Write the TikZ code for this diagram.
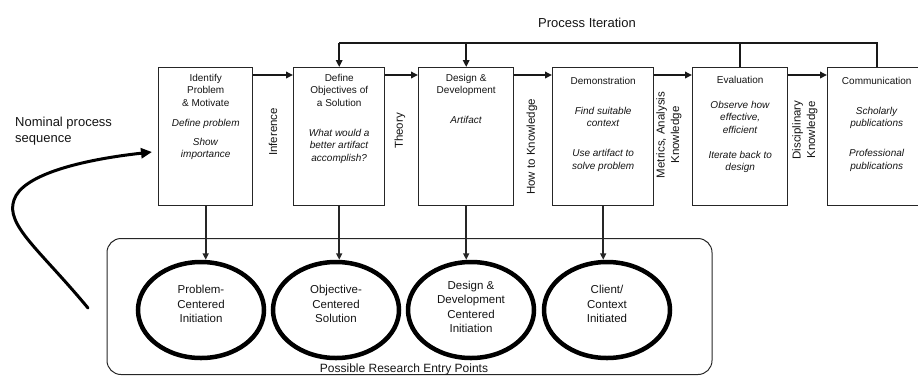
\documentclass[tikz,border=0pt]{standalone}
\usepackage{fontspec}
\setmainfont{Liberation Sans}
\usetikzlibrary{arrows.meta,shapes.geometric}
\begin{document}
\begin{tikzpicture}[x=1pt,y=-1pt,
  stagebox/.style={draw=black!85,line width=1.4pt,rectangle,minimum width=#1,minimum height=138,inner sep=0,anchor=north west},
  btext/.style={align=center,anchor=north,inner sep=0,font=\fontsize{10}{12.5}\selectfont,text=black!92},
  vlabel/.style={rotate=90,align=center,inner sep=0,font=\fontsize{11.5}{14.5}\selectfont,text=black!92},
  entry/.style={draw=black,line width=4.5pt,ellipse,minimum width=126,minimum height=96,inner sep=0},
  etext/.style={align=center,inner sep=0,font=\fontsize{11.5}{14.5}\selectfont,text=black!92},
  harr/.style={draw=black!90,line width=1.8pt,-{Triangle[length=7pt,width=6.5pt]}},
  varr/.style={draw=black!85,line width=1.6pt,-{Triangle[length=6.5pt,width=6pt]}},
  iter/.style={draw=black!90,line width=2pt},
  biglabel/.style={inner sep=0,font=\fontsize{13}{16}\selectfont,text=black!92}
]
\useasboundingbox (0,0) rectangle (918,376);

% stage boxes
\node[stagebox=94]  (b1) at (158,67) {};
\node[stagebox=91]  (b2) at (293,67) {};
\node[stagebox=95]  (b3) at (418,67) {};
\node[stagebox=101] (b4) at (552,67) {};
\node[stagebox=95]  (b5) at (692,67) {};
\node[stagebox=98]  (b6) at (827,67) {};

% box texts
\node[btext] (t1) at (b1.north |- 0,74) {Identify\\Problem\\\& Motivate\\[7.5pt]\textit{Define problem}\\[6.5pt]\textit{Show}\\\textit{importance}};
\node[btext] (t2) at (b2.north |- 0,74) {Define\\Objectives of\\a Solution\\[17.5pt]\textit{What would a}\\\textit{better artifact}\\\textit{accomplish?}};
\node[btext] (t3) at (b3.north |- 0,74) {Design \&\\Development\\[17.5pt]\textit{Artifact}};
\node[btext] (t4) at (b4.north |- 0,77) {Demonstration\\[17.5pt]\textit{Find suitable}\\\textit{context}\\[17.5pt]\textit{Use artifact to}\\\textit{solve problem}};
\node[btext] (t5) at (b5.north |- 0,76) {Evaluation\\[12.5pt]\textit{Observe how}\\\textit{effective,}\\\textit{efficient}\\[12.5pt]\textit{Iterate back to}\\\textit{design}};
\node[btext] (t6) at (b6.north |- 0,77) {Communication\\[17.5pt]\textit{Scholarly}\\\textit{publications}\\[17.5pt]\textit{Professional}\\\textit{publications}};

% horizontal arrows
\coordinate (hl) at (0,75);
\draw[harr] (b1.east |- hl) -- (b2.west |- hl);
\draw[harr] (b2.east |- hl) -- (b3.west |- hl);
\draw[harr] (b3.east |- hl) -- (b4.west |- hl);
\draw[harr] (b4.east |- hl) -- (b5.west |- hl);
\draw[harr] (b5.east |- hl) -- (b6.west |- hl);

% vertical labels
\node[vlabel] (l1) at (273,132) {Inference};
\node[vlabel] (l2) at (400,131) {Theory};
\node[vlabel] (l3) at (532,147) {How to Knowledge};
\node[vlabel] (l4) at (669,135) {Metrics, Analysis\\Knowledge};
\node[vlabel] (l5) at (805,130) {Disciplinary\\Knowledge};

% process iteration
\coordinate (top) at (0,43);
\node[biglabel] (pi) at (587,23) {Process Iteration};
\draw[iter] (b6.north) |- (b2.north |- top);
\draw[iter,-{Triangle[length=7pt,width=6.5pt]}] (b2.north |- top) -- (b2.north);
\draw[iter,-{Triangle[length=7pt,width=6.5pt]}] (b3.north |- top) -- (b3.north);
\draw[iter] (b5.north) -- (b5.north |- top);

% entry points container
\node[draw=black!85,line width=1pt,rectangle,rounded corners=14pt,minimum width=605,minimum height=136,inner sep=0] (cont) at (409.5,306.5) {};
\node[inner sep=0,font=\fontsize{12}{14}\selectfont,text=black!92] (contl) at (404,369.5) {Possible Research Entry Points};

% entry ellipses
\node[entry] (e1) at (201,310) {};
\node[entry] (e2) at (336,310) {};
\node[entry] (e3) at (471,310) {};
\node[entry] (e4) at (607,310) {};
\node[etext] (et1) at (201,304) {Problem-\\Centered\\Initiation};
\node[etext] (et2) at (336,304) {Objective-\\Centered\\Solution};
\node[etext] (et3) at (471,307) {Design \&\\Development\\Centered\\Initiation};
\node[etext] (et4) at (607,304) {Client/\\Context\\Initiated};

% down arrows
\draw[varr] (b1.south) -- (b1.south |- e1.north);
\draw[varr] (b2.south) -- (b2.south |- e2.north);
\draw[varr] (b3.south) -- (b3.south |- e3.north);
\draw[varr] (b4.south) -- (b4.south |- e4.north);

% nominal process sequence
\node[biglabel,align=left,anchor=north west] (nps) at (15,116.5) {Nominal process\\sequence};
\coordinate (ns) at (88,308);
\coordinate (nm) at (14,200);
\coordinate (nt) at (152,152);
\draw[line width=3pt,line cap=round,-{Triangle[length=11pt,width=10pt]}] (ns) .. controls (40,250) and (5,225) .. (nm) .. controls (22,175) and (80,160) .. (nt);
\end{tikzpicture}
\end{document}
